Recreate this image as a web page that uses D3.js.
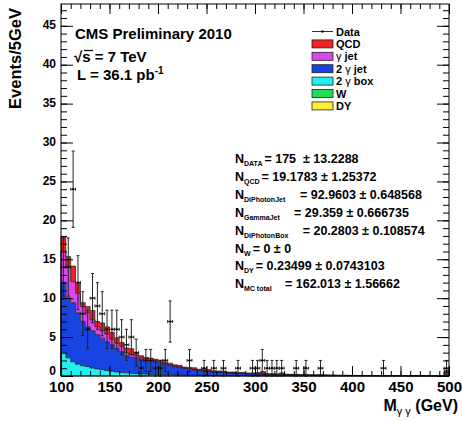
<!DOCTYPE html>
<html><head><meta charset="utf-8">
<script src="https://cdn.jsdelivr.net/npm/d3@7"></script>
<style>
body{margin:0;background:#fff}
text{font-family:"Liberation Sans",Arial,Helvetica,sans-serif;font-weight:bold;fill:#000}
</style>
</head><body>
<svg id="c" width="463" height="421"></svg>
<script>
// ---- data (5 GeV bins, 100-500 GeV) ----
const binLow = d3.range(100, 500, 5);
const dataCounts = [
 14,14,24,12,8,6,10,9,8,6,6,6,5,4,5,3,1,2,2,1,
 1,2,7,0,0,0,2,0,0,1,0,1,0,1,0,0,1,0,0,1,
 1,2,1,1,1,1,0,0,1,0,1,0,0,1,0,0,0,0,0,0,
 0,0,0,0,0,0,1,0,0,0,0,0,0,0,0,0,0,0,0,1];
const diPhotonBox = [
 3.0,2.3,1.8,1.5,1.3,1.2,1.0,0.9,0.8,0.7,0.6,0.5,0.45,0.4,0.35,0.3,0.25,0.25,0.2,0.2,
 0.18,0.16,0.15,0.13,0.12,0.11,0.10,0.09,0.08,0.08,0.07,0.06,0.06,0.05,0.05,0.04,0.04,0.04,0.03,0.03,
 0.03,0.03,0.02,0.02,0.02,0.02,0.02,0.02,0.01,0.01,0.01,0.01,0.01,0.01,0.01,0.01,0,0,0,0,
 0,0,0,0,0,0,0,0,0,0,0,0,0,0,0,0,0,0,0,0.03];
const diPhotonJet = [
 9.0,7.7,7.6,6.6,5.7,5.1,4.8,4.4,4.05,3.7,3.4,3.0,2.65,2.2,2.05,2.0,1.95,1.75,1.7,1.6,
 1.45,1.3,1.2,1.05,0.95,0.85,0.78,0.7,0.62,0.56,0.5,0.47,0.44,0.4,0.37,0.34,0.31,0.29,0.27,0.25,
 0.23,0.22,0.2,0.19,0.18,0.17,0.16,0.15,0.14,0.13,0.12,0.12,0.11,0.1,0.1,0.09,0.09,0.08,0.08,0.07,
 0.07,0.06,0.06,0.06,0.05,0.05,0.05,0.04,0.04,0.04,0.04,0.03,0.03,0.03,0.03,0.03,0.02,0.02,0.02,0.5];
const gammaJet = [
 4.0,4.0,2.7,2.5,1.9,1.8,1.4,1.0,0.95,1.0,0.7,0.7,0.7,0.4,0.3,0.3,0.2,0.2,0.1,0.15,
 0.15,0.12,0.1,0.1,0.08,0.08,0.07,0.06,0.06,0.05,0.05,0.04,0.04,0.04,0.03,0.03,0.03,0.03,0.02,0.02,
 0.02,0.02,0.02,0.02,0.01,0.01,0.01,0.01,0.01,0.01,0,0,0,0,0,0,0,0,0,0,
 0,0,0,0,0,0,0,0,0,0,0,0,0,0,0,0,0,0,0,0];
const qcd = [
 1.9,1.3,2.0,1.4,0.5,0.8,1.2,0.7,1.0,0.9,0.9,0.7,0.5,0.6,0.8,0.4,0.2,0.2,0.3,0.2,
 0.25,0.2,0.2,0.15,0.2,0.1,0.15,0.2,0.1,0.25,0.2,0.1,0.1,0.15,0.05,0.1,0.05,0.1,0.05,0.1,
 0.15,0.25,0.05,0.05,0.05,0.2,0.05,0.03,0.05,0,0.05,0,0,0.05,0,0,0,0,0,0,
 0,0,0,0,0,0,0,0,0,0,0,0,0,0,0,0,0,0,0,0.2];
const wBoson = new Array(80).fill(0);
const drellYan = [0.03,0.03,0.02,0.02,0.02,0.02,0.015,0.015,0.01,0.01,0.01,0.01,0.01,0.005,0.005]
  .concat(new Array(65).fill(0));

const yTicks = d3.range(0, 46, 5);
const xTicks = d3.range(100, 501, 50);

const legendLabels = [
  {key:"data", txt:["Data"]},
  {key:"qcd", txt:["QCD"]},
  {key:"gammaJet", txt:["γ", " jet"]},
  {key:"diPhotonJet", txt:["2 ", "γ", " jet"]},
  {key:"diPhotonBox", txt:["2 ", "γ", " box"]},
  {key:"w", txt:["W"]},
  {key:"dy", txt:["DY"]}
];
const statLines = [
  ["DATA", "= 175  ± 13.2288"],
  ["QCD", "= 19.1783 ± 1.25372"],
  ["DiPhotonJet", "= 92.9603 ± 0.648568"],
  ["GammaJet", "= 29.359 ± 0.666735"],
  ["DiPhotonBox", "= 20.2803 ± 0.108574"],
  ["W", "= 0 ± 0"],
  ["DY", "= 0.23499 ± 0.0743103"],
  ["MC total", "= 162.013 ± 1.56662"]
];

// ---- styles ----
const colors = {qcd:"#f02424", gammaJet:"#d848ec", diPhotonJet:"#1844e2", diPhotonBox:"#22f0f0", w:"#22dd55", dy:"#ffee33"};
const keys = ["w","dy","diPhotonBox","diPhotonJet","gammaJet","qcd"];
const series = {w:wBoson, dy:drellYan, diPhotonBox, diPhotonJet, gammaJet, qcd};

const svg = d3.select("#c");
const L=61, R=449, T=4, B=376;
const x = d3.scaleLinear([100,500],[L,R]);
const y = d3.scaleLinear([0,47.8],[B,T]);

const table = binLow.map((lo,i)=>{const o={lo,hi:lo+5}; keys.forEach(k=>o[k]=series[k][i]); return o;});
const stacked = d3.stack().keys(keys)(table);

const plot = svg.append("g");
const area = d3.area().x(d=>x(d.x)).y0(d=>y(d.y0)).y1(d=>y(d.y1));
const line = d3.line().x(d=>x(d.x)).y(d=>y(d.y));
stacked.forEach(layer=>{
  const pts=[];
  layer.forEach((d,i)=>{ pts.push({x:d.data.lo,y0:d[0],y1:d[1]}); pts.push({x:d.data.hi,y0:d[0],y1:d[1]}); });
  plot.append("path").attr("d",area(pts)).attr("fill",colors[layer.key]).attr("stroke","none");
});
stacked.forEach(layer=>{
  if (d3.max(layer,d=>d[1]-d[0])<=0) return;
  const pts=[{x:100,y:0}];
  layer.forEach(d=>{ pts.push({x:d.data.lo,y:d[1]}); pts.push({x:d.data.hi,y:d[1]}); });
  pts.push({x:500,y:0});
  plot.append("path").attr("d",line(pts)).attr("fill","none").attr("stroke","#111").attr("stroke-width",0.8).attr("stroke-opacity",0.85);
});

// data points
const dg = svg.append("g").attr("stroke","#222").attr("stroke-width",1).attr("fill","none");
binLow.forEach((lo,i)=>{
  const n=dataCounts[i]; if(!n) return;
  const e=Math.sqrt(n), cx=x(lo+2.5), cy=y(n);
  const yt=y(n+e), yb=y(Math.max(0,n-e));
  dg.append("line").attr("x1",cx).attr("x2",cx).attr("y1",yt).attr("y2",yb);
  dg.append("line").attr("x1",cx-1.5).attr("x2",cx+1.5).attr("y1",yt).attr("y2",yt);
  dg.append("line").attr("x1",cx-1.5).attr("x2",cx+1.5).attr("y1",yb).attr("y2",yb);
  dg.append("line").attr("x1",x(lo)).attr("x2",x(lo+5)).attr("y1",cy).attr("y2",cy);
  dg.append("line").attr("x1",x(lo)).attr("x2",x(lo)).attr("y1",cy-1.5).attr("y2",cy+1.5);
  dg.append("line").attr("x1",x(lo+5)).attr("x2",x(lo+5)).attr("y1",cy-1.5).attr("y2",cy+1.5);
  svg.append("circle").attr("cx",cx).attr("cy",cy).attr("r",1.1).attr("fill","#000");
});

// frame
svg.append("rect").attr("x",L).attr("y",T).attr("width",R-L).attr("height",B-T).attr("fill","none").attr("stroke","#000").attr("stroke-width",1);

// axes
function styleAxis(g){ g.select(".domain").remove(); g.selectAll("line").attr("stroke","#000"); }
const yMinor = d3.range(0,48,1);
svg.append("g").attr("transform",`translate(${L},0)`).call(d3.axisLeft(y).tickValues(yMinor).tickSize(-6).tickFormat("")).call(styleAxis);
svg.append("g").attr("transform",`translate(${L},0)`).call(d3.axisLeft(y).tickValues(yTicks).tickSize(-12).tickPadding(5).tickFormat(d3.format("d"))).call(styleAxis)
  .selectAll("text").attr("font-size",12).attr("font-weight","bold").attr("font-family","Liberation Sans, Arial, sans-serif")
  .attr("dy",d=>d===0?"-0.15em":"0.25em");
svg.append("g").attr("transform",`translate(${R},0)`).call(d3.axisRight(y).tickValues(yMinor).tickSize(-6).tickFormat("")).call(styleAxis);
svg.append("g").attr("transform",`translate(${R},0)`).call(d3.axisRight(y).tickValues(yTicks).tickSize(-12).tickFormat("")).call(styleAxis);
const xMinor = d3.range(100,501,10);
svg.append("g").attr("transform",`translate(0,${B})`).call(d3.axisBottom(x).tickValues(xMinor).tickSize(-5).tickFormat("")).call(styleAxis);
svg.append("g").attr("transform",`translate(0,${B})`).call(d3.axisBottom(x).tickValues(xTicks).tickSize(-10).tickPadding(5).tickFormat(d3.format("d"))).call(styleAxis)
  .selectAll("text").attr("font-size",15).attr("font-weight","bold").attr("font-family","Liberation Sans, Arial, sans-serif");
svg.append("g").attr("transform",`translate(0,${T})`).call(d3.axisBottom(x).tickValues(xMinor).tickSize(5).tickFormat("")).call(styleAxis);
svg.append("g").attr("transform",`translate(0,${T})`).call(d3.axisBottom(x).tickValues(xTicks).tickSize(10).tickFormat("")).call(styleAxis);

// axis titles
svg.append("text").attr("transform","translate(21,8) rotate(-90)").attr("text-anchor","end").attr("font-size",16.5).text("Events/5GeV");
const xt = svg.append("text").attr("x",458).attr("y",410.5).attr("text-anchor","end").attr("font-size",16);
xt.append("tspan").text("M");
xt.append("tspan").attr("font-size",11).attr("font-weight","normal").attr("dy",4).text("γ γ");
xt.append("tspan").attr("dy",-4).text(" (GeV)");

// CMS label
svg.append("text").attr("x",75).attr("y",38.5).attr("font-size",15).text("CMS Preliminary 2010");
svg.append("text").attr("x",74).attr("y",62).attr("font-size",15).text("√s = 7 TeV");
svg.append("line").attr("x1",84).attr("x2",93).attr("y1",50.5).attr("y2",50.5).attr("stroke","#000").attr("stroke-width",1.2);
const lt = svg.append("text").attr("x",77).attr("y",80).attr("font-size",15);
lt.append("tspan").text("L = 36.1 pb");
lt.append("tspan").attr("font-size",10).attr("dy",-6).text("-1");

// legend
const lg = svg.append("g");
legendLabels.forEach((e,i)=>{
  const cy = 31.5 + i*12.4;
  if(e.key==="data"){
    lg.append("line").attr("x1",312).attr("x2",333).attr("y1",cy).attr("y2",cy).attr("stroke","#333").attr("stroke-width",1);
    lg.append("circle").attr("cx",322.5).attr("cy",cy).attr("r",1.2).attr("fill","#000");
  } else {
    lg.append("rect").attr("x",312).attr("y",cy-4).attr("width",21).attr("height",8).attr("fill",colors[e.key]).attr("stroke","#222").attr("stroke-width",0.8);
  }
  const t = lg.append("text").attr("x",336).attr("y",cy+4).attr("font-size",11);
  e.txt.forEach(s=>{ const ts=t.append("tspan").text(s); if(s==="γ") ts.attr("font-weight","normal"); });
});

// stats
const eqX = [261.7,258,300,294,302.7,251.7,253.3,285];
statLines.forEach((s,i)=>{
  const by = 163 + i*17.9;
  const t = svg.append("text").attr("x",235).attr("y",by).attr("font-size",12.5).style("white-space","pre");
  t.append("tspan").text("N");
  t.append("tspan").attr("font-size",7).attr("dy",3).text(s[0]);
  const end = 235 + t.node().getComputedTextLength();
  svg.append("text").attr("x",Math.max(eqX[i], end+2)).attr("y",by).attr("font-size",12.5).style("white-space","pre").text(s[1]);
});
</script>
</body></html>
